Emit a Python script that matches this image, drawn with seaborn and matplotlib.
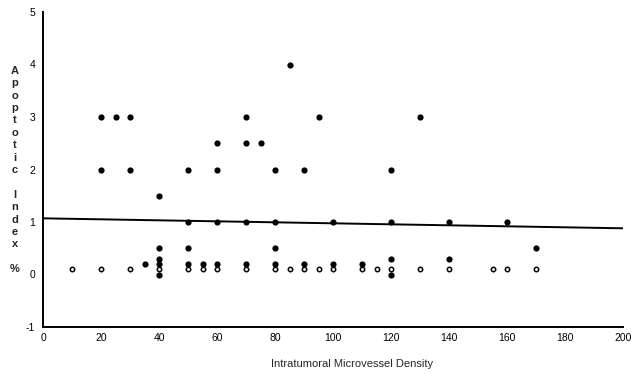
import matplotlib
matplotlib.use("Agg")
import matplotlib.pyplot as plt
import seaborn as sns
import pandas as pd

# Filled data points (microvessel density, apoptotic index %)
density = [20, 20, 25, 30, 30, 35, 40, 40, 40, 40, 40, 50, 50, 50, 50, 55,
           60, 60, 60, 60, 70, 70, 70, 70, 75, 80, 80, 80, 80, 85, 90, 90,
           95, 100, 100, 110, 120, 120, 120, 120, 130, 140, 140, 160, 170]
apoptotic = [3, 2, 3, 3, 2, 0.2, 1.5, 0.5, 0.3, 0.2, 0.0, 2, 1, 0.5, 0.2, 0.2,
             2.5, 2, 1, 0.2, 3, 2.5, 1, 0.2, 2.5, 2, 1, 0.5, 0.2, 4, 2, 0.2,
             3, 1, 0.2, 0.2, 2, 1, 0.3, 0.0, 3, 1, 0.3, 1, 0.5]

# Low-value points (apoptotic index 0.1)
low_density = [10, 20, 30, 40, 50, 55, 60, 70, 80, 85, 90, 95, 100, 110,
               115, 120, 130, 140, 155, 160, 170]
low_apoptotic = [0.1] * len(low_density)

# Regression line endpoints
fit_x = [0, 200]
fit_y = [1.07, 0.88]

x_ticks = [0, 20, 40, 60, 80, 100, 120, 140, 160, 180, 200]
y_ticks = [-1, 0, 1, 2, 3, 4, 5]

sns.set_style("white")
plt.rcParams['font.family'] = ['Liberation Sans', 'DejaVu Sans']

fig = plt.figure(figsize=(6.31, 3.74), dpi=100)
ax = fig.add_axes([43 / 631, 1 - 327 / 374, 580 / 631, 315 / 374])

df_fit = pd.DataFrame({"x": fit_x, "y": fit_y})
sns.lineplot(data=df_fit, x="x", y="y", ax=ax, color="black", linewidth=1.4)

df_low = pd.DataFrame({"x": low_density, "y": low_apoptotic})
sns.scatterplot(data=df_low, x="x", y="y", ax=ax, marker="o", s=10,
                facecolor="white", edgecolor="black", linewidth=1.1, zorder=3)

df = pd.DataFrame({"x": density, "y": apoptotic})
sns.scatterplot(data=df, x="x", y="y", ax=ax, color="black", s=20,
                linewidth=0, zorder=4)

ax.set_xlim(0, 200)
ax.set_ylim(-1, 5)
ax.set_xticks(x_ticks)
ax.set_yticks(y_ticks)
ax.set_xticklabels([str(t) for t in x_ticks], fontsize=7.5)
ax.set_yticklabels([str(t) for t in y_ticks], fontsize=7.5)
for s in ["top", "right"]:
    ax.spines[s].set_visible(False)
for s in ["left", "bottom"]:
    ax.spines[s].set_linewidth(1.4)
    ax.spines[s].set_color("black")
ax.tick_params(axis="y", direction="inout", length=9, width=1.4, pad=1,
               colors="black")
ax.tick_params(axis="x", direction="in", length=3, width=1.0, pad=4,
               colors="black")
ax.set_xlabel("")
ax.set_ylabel("")

fig.text(352 / 631, 1 - 364 / 374, "Intratumoral Microvessel Density",
         ha="center", va="center", fontsize=8)

ylabel = "A\np\no\np\nt\no\nt\ni\nc\n\nI\nn\nd\ne\nx\n\n%"
fig.text(15 / 631, 1 - 170 / 374, ylabel, ha="center", va="center",
         fontsize=8, fontweight="bold", linespacing=1.3)

fig.savefig("out.png", dpi=100)
